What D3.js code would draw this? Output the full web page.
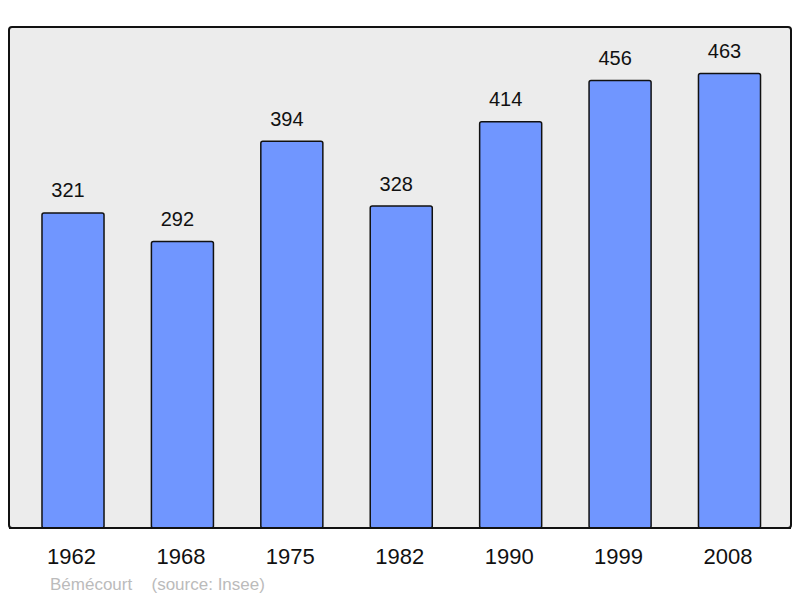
<!DOCTYPE html>
<html><head><meta charset="utf-8">
<script src="https://cdn.jsdelivr.net/npm/d3@7"></script>
<style>body{margin:0;background:#fff}svg{display:block}</style>
</head><body>
<script>
const years = ["1962","1968","1975","1982","1990","1999","2008"];
const population = [321,292,394,328,414,456,463];
const footerName = "Bémécourt";
const footerSource = "(source: Insee)";

const W=800,H=598;
const svg=d3.select("body").append("svg").attr("width",W).attr("height",H);
const frame={x0:9,y0:27,x1:791,y1:528};
const font="Liberation Sans, Arial, sans-serif";
svg.append("rect").attr("x",frame.x0).attr("y",frame.y0)
  .attr("width",frame.x1-frame.x0).attr("height",frame.y1-frame.y0)
  .attr("rx",3).attr("fill","#ececec").attr("stroke","#111").attr("stroke-width",2);

const x=d3.scaleBand().domain(years).range([18.3,784.2]).paddingInner(0.433).paddingOuter(0.2165);
const y=d3.scaleLinear().domain([0,510.5]).range([frame.y1,frame.y0]);

svg.selectAll("rect.bar").data(years).join("rect").attr("class","bar")
  .attr("x",d=>x(d)).attr("width",x.bandwidth())
  .attr("y",(d,i)=>y(population[i])).attr("height",(d,i)=>y(0)-y(population[i]))
  .attr("rx",2).attr("fill","#7096ff").attr("stroke","#111").attr("stroke-width",1.5);

svg.selectAll("text.val").data(years).join("text").attr("class","val")
  .attr("x",d=>x(d)+x.bandwidth()/2-5).attr("y",(d,i)=>y(population[i])-15.5)
  .attr("text-anchor","middle").attr("font-family",font)
  .attr("font-size",20).attr("fill","#111").text((d,i)=>population[i]);

svg.append("line").attr("x1",frame.x0).attr("x2",frame.x1).attr("y1",frame.y1).attr("y2",frame.y1)
  .attr("stroke","#111").attr("stroke-width",2);

const ax=svg.append("g").attr("transform",`translate(0,${frame.y1})`)
  .call(d3.axisBottom(x).tickSize(0).tickPadding(0));
ax.select(".domain").remove();
ax.selectAll("text").attr("x",-1.5).attr("y",36.3).attr("dy",0).attr("font-family",font)
  .attr("font-size",22).attr("fill","#111");

svg.append("text").attr("x",50).attr("y",590).attr("font-family",font)
  .attr("font-size",17).attr("fill","#bbbbbb").text(footerName);
svg.append("text").attr("x",151.5).attr("y",590).attr("font-family",font)
  .attr("font-size",17).attr("fill","#bbbbbb").text(footerSource);
</script>
</body></html>
